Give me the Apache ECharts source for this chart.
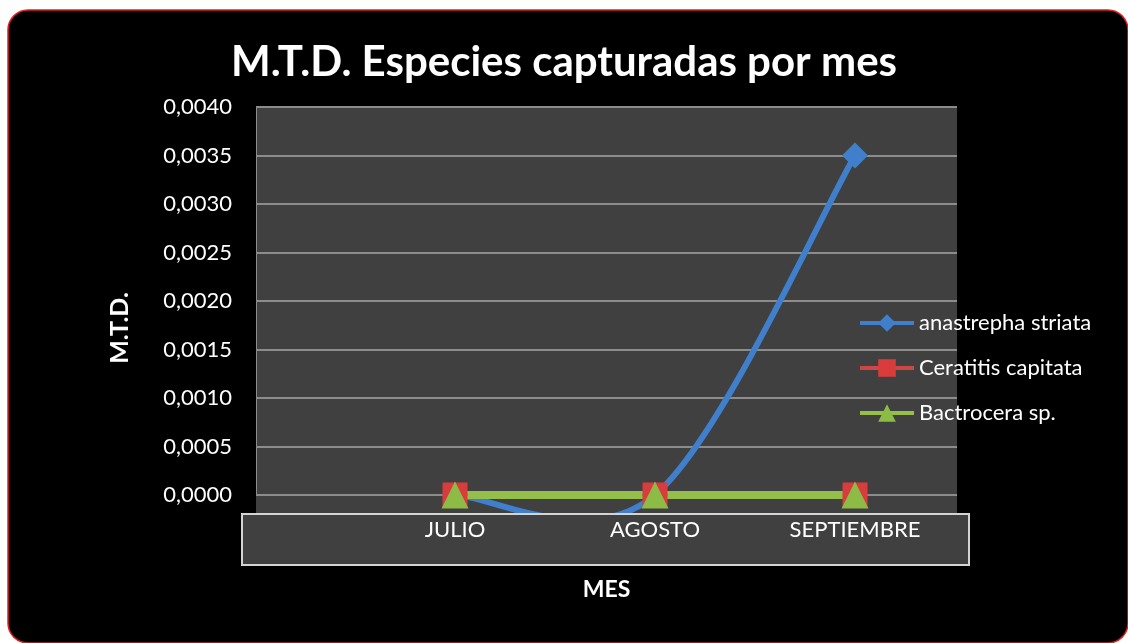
<!DOCTYPE html>
<html>
<head>
<meta charset="utf-8">
<script src="https://cdn.jsdelivr.net/npm/echarts@6/dist/echarts.min.js"></script>
<style>
  html, body { margin: 0; padding: 0; background: #fff; }
  #chart { width: 1128px; height: 643px; }
</style>
</head>
<body>
<div id="chart"></div>
<script>
// data
const categories = ['JULIO', 'AGOSTO', 'SEPTIEMBRE'];
const anastrepha = [0, 0, 0.0035];
const ceratitis = [0, 0, 0];
const bactrocera = [0, 0, 0];
const yMin = 0, yMax = 0.004, yStep = 0.0005;

var chartDom = document.getElementById('chart');
var myChart = echarts.init(chartDom);
var font = 'Lato, "Open Sans", sans-serif';
var blue = '#3f7fcc';

// excel style smoothed segment (catmull-rom), drawn between point i-1 and i
function renderSmooth(params, api) {
  var i = params.dataIndex;
  if (i === 0) return null;
  var n = anastrepha.length;
  function pt(k) {
    k = Math.max(0, Math.min(n - 1, k));
    return api.coord([k, anastrepha[k]]);
  }
  var p0 = pt(i - 2), p1 = pt(i - 1), p2 = pt(i), p3 = pt(i + 1);
  return {
    type: 'bezierCurve',
    shape: {
      x1: p1[0], y1: p1[1], x2: p2[0], y2: p2[1],
      cpx1: p1[0] + (p2[0] - p0[0]) / 6, cpy1: p1[1] + (p2[1] - p0[1]) / 6,
      cpx2: p2[0] - (p3[0] - p1[0]) / 6, cpy2: p2[1] - (p3[1] - p1[1]) / 6
    },
    style: { stroke: blue, lineWidth: 6, fill: null }
  };
}

var legendText = { color: '#fff', fontSize: 22, fontFamily: font };

var option = {
  animation: false,
  title: {
    text: 'M.T.D. Especies capturadas por mes',
    left: 'center',
    top: 36,
    textStyle: { color: '#fff', fontSize: 42, fontWeight: 'bold', fontFamily: font }
  },
  graphic: {
    elements: [
      {
        type: 'rect', z: -20,
        shape: { x: 8, y: 10, width: 1120, height: 633, r: 20 },
        style: { fill: '#000', stroke: '#e02020', lineWidth: 1.5 }
      },
      {
        type: 'rect', z: -10,
        shape: { x: 256, y: 107, width: 701, height: 408 },
        style: { fill: '#404040' }
      },
      {
        type: 'rect', z: 5,
        shape: { x: 242, y: 514, width: 727, height: 51 },
        style: { fill: '#404040', stroke: '#d4d4d4', lineWidth: 2 }
      },
      {
        type: 'text', z: 5, x: 120, y: 328, rotation: Math.PI / 2,
        style: {
          text: 'M.T.D.', fill: '#fff', font: 'bold 25px ' + font,
          textAlign: 'center', textVerticalAlign: 'middle'
        }
      }
    ]
  },
  legend: {
    orient: 'vertical',
    left: 858,
    top: 312,
    padding: 0,
    itemWidth: 54,
    itemHeight: 22,
    itemGap: 23,
    textStyle: legendText,
    data: [
      { name: 'anastrepha striata', textStyle: legendText,
        lineStyle: { color: blue, width: 4, opacity: 1 } },
      { name: 'Ceratitis capitata', textStyle: legendText,
        lineStyle: { width: 4 } },
      { name: 'Bactrocera sp.', textStyle: legendText,
        lineStyle: { width: 4 } }
    ]
  },
  grid: [
    { left: 256, right: 171, top: 107, bottom: 148 },
    { left: 355, right: 173, top: 107, bottom: 148 }
  ],
  xAxis: [
    {
      type: 'value', gridIndex: 0,
      name: 'MES', nameLocation: 'middle', nameGap: 83,
      nameTextStyle: { color: '#fff', fontSize: 23, fontWeight: 'bold', fontFamily: font },
      axisLine: { show: false }, axisTick: { show: false },
      axisLabel: { show: false }, splitLine: { show: false }
    },
    {
      type: 'category', gridIndex: 1, data: categories, boundaryGap: true, z: 10,
      axisLine: { show: false }, axisTick: { show: false },
      axisLabel: { color: '#fff', fontSize: 22, fontFamily: font, margin: 24 }
    }
  ],
  yAxis: [
    {
      type: 'value', gridIndex: 0, min: yMin, max: yMax, interval: yStep,
      axisLine: { show: true, lineStyle: { color: '#8c8c8c', width: 1 } },
      axisTick: { show: false },
      axisLabel: {
        color: '#fff', fontSize: 22, fontFamily: font, margin: 24,
        formatter: function (v) { return v.toFixed(4).replace('.', ','); }
      },
      splitLine: { lineStyle: { color: '#8c8c8c', width: 2 } }
    },
    {
      type: 'value', gridIndex: 1, min: yMin, max: yMax, show: false,
      splitLine: { show: false }
    }
  ],
  series: [
    {
      type: 'custom', xAxisIndex: 1, yAxisIndex: 1, clip: false, silent: true,
      data: anastrepha.map(function (v, i) { return [i, v]; }),
      renderItem: renderSmooth
    },
    {
      name: 'anastrepha striata', type: 'line', xAxisIndex: 1, yAxisIndex: 1,
      data: anastrepha, clip: false,
      symbol: 'diamond', symbolSize: 26,
      lineStyle: { color: blue, width: 6, opacity: 0 },
      itemStyle: { color: blue }
    },
    {
      name: 'Ceratitis capitata', type: 'line', xAxisIndex: 1, yAxisIndex: 1,
      data: ceratitis, clip: false,
      symbol: 'rect', symbolSize: 25,
      lineStyle: { color: '#d04545', width: 6 },
      itemStyle: { color: '#d93c3c' }
    },
    {
      name: 'Bactrocera sp.', type: 'line', xAxisIndex: 1, yAxisIndex: 1,
      data: bactrocera, clip: false,
      symbol: 'triangle', symbolSize: [27, 27],
      lineStyle: { color: '#94bf4a', width: 8 },
      itemStyle: { color: '#8cbc45' }
    }
  ]
};

myChart.setOption(option);
</script>
</body>
</html>
